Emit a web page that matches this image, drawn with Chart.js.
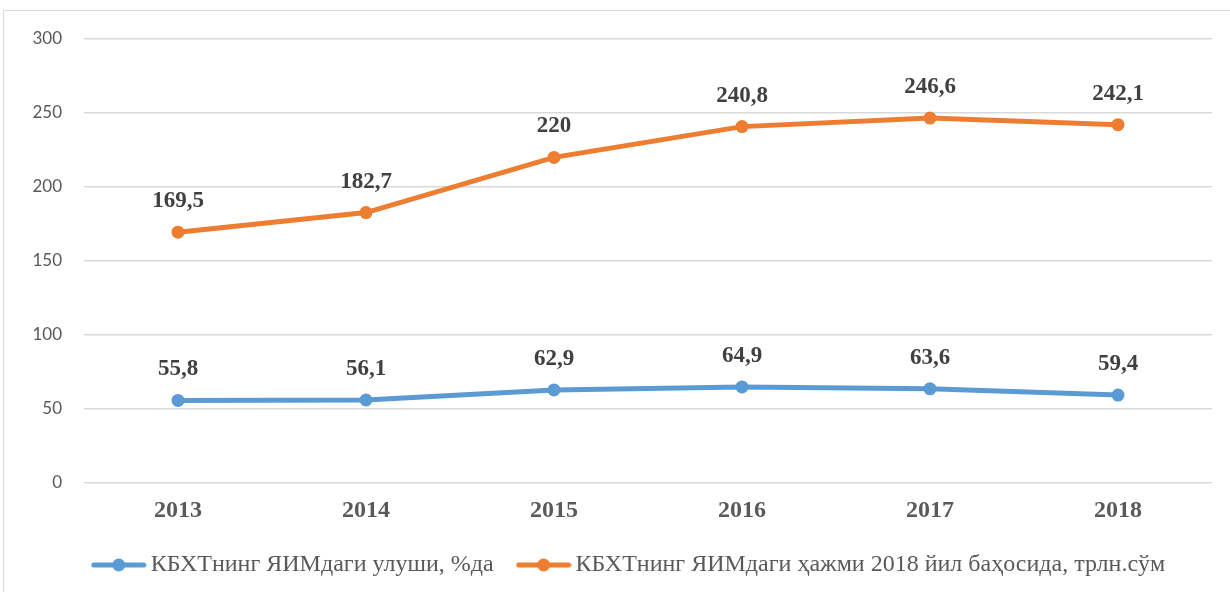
<!DOCTYPE html>
<html>
<head>
<meta charset="utf-8">
<script src="https://cdn.jsdelivr.net/npm/chart.js@4.4.1/dist/chart.umd.min.js"></script>
<style>
  html, body { margin: 0; padding: 0; background: #fff; overflow: hidden; }
  #frame { position: absolute; left: 3px; top: 10px; width: 1300px; height: 700px; border: 1px solid #d9d9d9; }
  #chart { position: absolute; left: 0; top: 0; }
</style>
</head>
<body>
<div id="frame"></div>
<canvas id="chart" width="1230" height="592"></canvas>
<script>
var years = ['2013', '2014', '2015', '2016', '2017', '2018'];
var shareGdp = [55.8, 56.1, 62.9, 64.9, 63.6, 59.4];
var volumeGdp = [169.5, 182.7, 220, 240.8, 246.6, 242.1];
var seriesNames = [
    'КБХТнинг ЯИМдаги улуши, %да',
    'КБХТнинг ЯИМдаги ҳажми 2018 йил баҳосида, трлн.сўм'
];
var yTicks = [0, 50, 100, 150, 200, 250, 300];

var blue = '#5B9BD5';
var orange = '#ED7D31';

// legend marker: line with a dot in the middle
function legendMarker(color) {
    var c = document.createElement('canvas');
    c.width = 56;
    c.height = 14;
    var g = c.getContext('2d');
    g.strokeStyle = color;
    g.lineWidth = 5;
    g.lineCap = 'round';
    g.beginPath();
    g.moveTo(3, 7);
    g.lineTo(53, 7);
    g.stroke();
    g.fillStyle = color;
    g.beginPath();
    g.arc(28, 7, 6.5, 0, Math.PI * 2);
    g.fill();
    return c;
}

var valueLabels = {
    id: 'valueLabels',
    afterDatasetsDraw: function(chart) {
        var ctx = chart.ctx;
        ctx.save();
        ctx.font = 'bold 23px "Liberation Serif", "Times New Roman", serif';
        ctx.fillStyle = '#404040';
        ctx.textAlign = 'center';
        ctx.textBaseline = 'middle';
        chart.data.datasets.forEach(function(ds, i) {
            var meta = chart.getDatasetMeta(i);
            meta.data.forEach(function(pt, j) {
                var txt = String(ds.data[j]).replace('.', ',');
                ctx.fillText(txt, pt.x, pt.y - 31);
            });
        });
        ctx.restore();
    }
};

// nudge the legend a little to the right, like in the original
var legendShift = {
    id: 'legendShift',
    afterLayout: function(chart) {
        chart.legend.left += 12;
        chart.legend.right += 12;
    }
};

var ctx = document.getElementById('chart');

var myChart = new Chart(ctx, {
    type: 'line',
    data: {
        labels: years,
        datasets: [{
            label: seriesNames[0],
            data: shareGdp,
            borderColor: blue,
            backgroundColor: blue,
            borderWidth: 5,
            pointRadius: 6.5,
            pointBackgroundColor: blue,
            pointBorderWidth: 0,
            pointStyle: 'circle',
            tension: 0
        }, {
            label: seriesNames[1],
            data: volumeGdp,
            borderColor: orange,
            backgroundColor: orange,
            borderWidth: 5,
            pointRadius: 6.5,
            pointBackgroundColor: orange,
            pointBorderWidth: 0,
            pointStyle: 'circle',
            tension: 0
        }]
    },
    options: {
        responsive: false,
        animation: false,
        devicePixelRatio: 1,
        layout: {
            padding: { left: 28, right: 18, top: 39, bottom: 5 }
        },
        scales: {
            x: {
                offset: true,
                grid: { display: false },
                border: { display: false },
                ticks: {
                    padding: 5,
                    color: '#595959',
                    font: { family: '"Liberation Serif", "Times New Roman", serif', size: 24, weight: 'bold' }
                },
                afterFit: function(scale) { scale.height = 40; }
            },
            y: {
                min: 0,
                max: 300,
                afterBuildTicks: function(scale) {
                    scale.ticks = yTicks.map(function(v) { return { value: v }; });
                },
                grid: { color: '#d9d9d9', lineWidth: 1.5, drawTicks: false },
                border: { display: false },
                ticks: {
                    padding: 22,
                    color: '#595959',
                    font: { family: 'Lato, "Open Sans", sans-serif', size: 17 }
                },
                afterFit: function(scale) { scale.width = 56; }
            }
        },
        plugins: {
            legend: {
                position: 'bottom',
                labels: {
                    usePointStyle: true,
                    boxWidth: 40,
                    boxHeight: 14,
                    pointStyleWidth: 40,
                    padding: 30,
                    color: '#595959',
                    font: { family: '"Liberation Serif", "Times New Roman", serif', size: 24 },
                    generateLabels: function(chart) {
                        return chart.data.datasets.map(function(ds, i) {
                            return {
                                text: ds.label,
                                pointStyle: legendMarker(ds.borderColor),
                                fillStyle: ds.borderColor,
                                strokeStyle: ds.borderColor,
                                lineWidth: 0,
                                fontColor: '#595959',
                                datasetIndex: i
                            };
                        });
                    }
                }
            },
            tooltip: { enabled: false }
        }
    },
    plugins: [valueLabels, legendShift]
});
</script>
</body>
</html>
